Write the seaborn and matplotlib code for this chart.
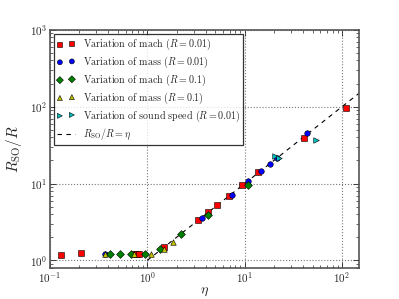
import matplotlib
matplotlib.use("Agg")
import matplotlib.pyplot as plt
import seaborn as sns
import pandas as pd
import numpy as np

# =====================================================
# Data
# =====================================================

mach_001_eta = [0.13, 0.21, 0.73, 0.78, 0.83, 1.47, 3.3, 4.16, 5.26, 6.87, 9.35, 13.8, 40.7, 109]
mach_001_r = [1.19, 1.24, 1.2, 1.2, 1.2, 1.5, 3.4, 4.24, 5.3, 7.0, 9.5, 14.0, 39.6, 96]

mass_001_eta = [0.37, 3.66, 7.4, 10.9, 14.7, 18.2, 21.3, 43.6]
mass_001_r = [1.22, 3.55, 7.05, 10.7, 14.5, 18.2, 21.6, 45.5]

mach_01_eta = [0.41, 0.52, 0.68, 0.95, 1.36, 2.21, 4.16, 10.9]
mach_01_r = [1.21, 1.22, 1.22, 1.22, 1.39, 2.22, 3.96, 9.5]

mass_01_eta = [0.37, 0.73, 1.1, 1.47, 1.83]
mass_01_r = [1.22, 1.22, 1.22, 1.42, 1.76]

sound_eta = [20.7, 22.7, 54]
sound_r = [22.6, 21.7, 36.9]

line_eta = [1.0, 150.0]

series = [
    (mach_001_eta, mach_001_r, "s", "red", r"Variation of mach ($R=0.01$)"),
    (mass_001_eta, mass_001_r, "o", "blue", r"Variation of mass ($R=0.01$)"),
    (mach_01_eta, mach_01_r, "D", "green", r"Variation of mach ($R=0.1$)"),
    (mass_01_eta, mass_01_r, "^", "y", r"Variation of mass ($R=0.1$)"),
    (sound_eta, sound_r, ">", "c", r"Variation of sound speed ($R=0.01$)"),
]

# =====================================================
# Style
# =====================================================

sns.set_style("ticks")
plt.rcParams["font.family"] = ["cmr10", "DejaVu Serif"]
plt.rcParams["mathtext.fontset"] = "cm"
plt.rcParams["axes.formatter.use_mathtext"] = True
plt.rcParams["xtick.direction"] = "in"
plt.rcParams["ytick.direction"] = "in"
plt.rcParams["xtick.top"] = True
plt.rcParams["ytick.right"] = True

fig, ax = plt.subplots(figsize=(3.99, 2.99), dpi=100)
fig.subplots_adjust(left=0.125, right=0.9, bottom=0.104, top=0.9)

# =====================================================
# Plot
# =====================================================

for eta, r, marker, color, label in series:
    df = pd.DataFrame({"eta": eta, "r": r})
    sns.scatterplot(
        data=df,
        x="eta",
        y="r",
        marker=marker,
        color=color,
        edgecolor="black",
        linewidth=0.4,
        s=16,
        label=label,
        ax=ax,
        zorder=3,
    )

line_df = pd.DataFrame({"eta": line_eta, "r": line_eta})
sns.lineplot(
    data=line_df,
    x="eta",
    y="r",
    color="black",
    linestyle=(0, (4, 4)),
    linewidth=0.8,
    label=r"$R_{\rm SO}/R = \eta$",
    ax=ax,
    zorder=2,
)

ax.set_xscale("log")
ax.set_yscale("log")
ax.set_xlim(0.1, 150)
ax.set_ylim(0.8, 1000)

ax.grid(True, which="major", linestyle=":", color="#777777", linewidth=0.8)
ax.tick_params(which="major", length=4, width=0.6, labelsize=8, pad=2)
ax.tick_params(which="minor", length=2, width=0.5)
for spine in ax.spines.values():
    spine.set_linewidth(1.2)
    spine.set_color("#555555")

ax.set_xlabel(r"$\eta$", fontsize=10, labelpad=0)
ax.set_ylabel(r"$R_{\rm SO}/R$", fontsize=11, labelpad=4)

leg = ax.legend(
    loc="upper left",
    scatterpoints=2,
    markerscale=0.9,
    fontsize=7.2,
    frameon=True,
    fancybox=False,
    borderpad=0.3,
    labelspacing=0.25,
    handlelength=1.8,
    borderaxespad=0.4,
)
leg.get_frame().set_edgecolor("black")
leg.get_frame().set_linewidth(0.9)

plt.savefig("out.png", dpi=100)
plt.close()
